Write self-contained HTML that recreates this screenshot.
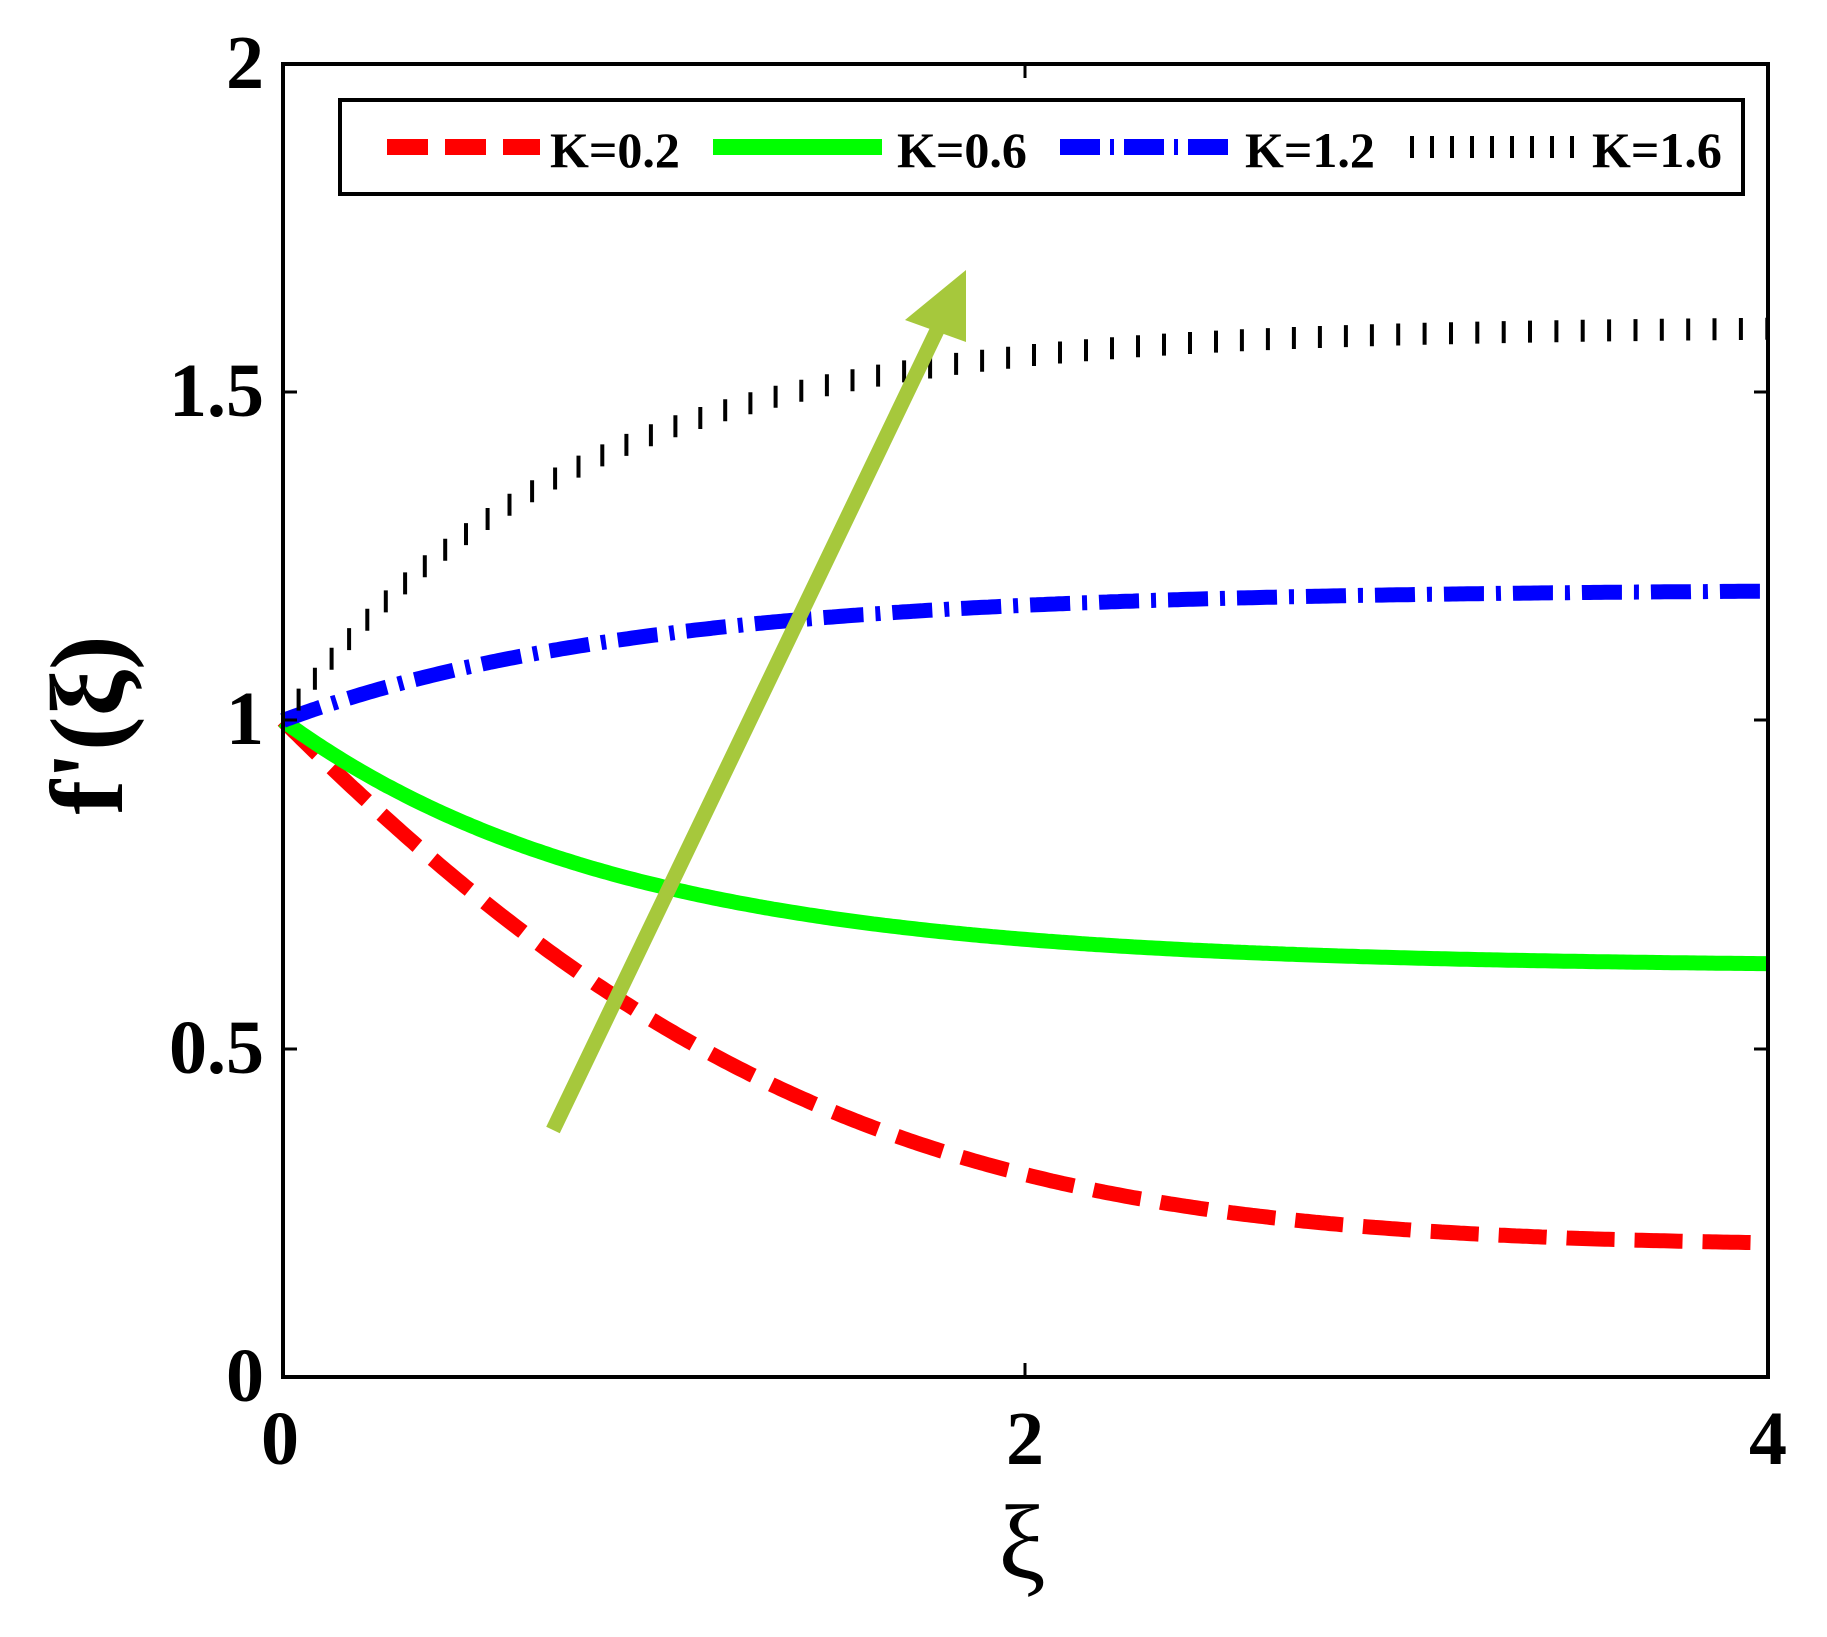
<!DOCTYPE html>
<html><head><meta charset="utf-8"><style>
html,body{margin:0;padding:0;background:#fff;}
svg{display:block;}
text{font-family:"Liberation Serif",serif;font-weight:bold;fill:#000;}
</style></head><body>
<svg id="s" width="1827" height="1637" viewBox="0 0 1827 1637" xmlns="http://www.w3.org/2000/svg">
<g id="curves"></g>
<rect x="283" y="64" width="1485" height="1313" fill="none" stroke="#000" stroke-width="4"/>
<g stroke="#000" stroke-width="3">
<line x1="1025" y1="64" x2="1025" y2="78"/><line x1="1025" y1="1377" x2="1025" y2="1363"/>
<line x1="283" y1="392" x2="297" y2="392"/><line x1="1768" y1="392" x2="1754" y2="392"/>
<line x1="283" y1="720" x2="297" y2="720"/><line x1="1768" y1="720" x2="1754" y2="720"/>
<line x1="283" y1="1049" x2="297" y2="1049"/><line x1="1768" y1="1049" x2="1754" y2="1049"/>
</g>
<g font-size="76" text-anchor="end">
<text x="264" y="88">2</text>
<text x="264" y="416">1.5</text>
<text x="264" y="744">1</text>
<text x="264" y="1073">0.5</text>
<text x="264" y="1401">0</text>
</g>
<g font-size="76" text-anchor="middle">
<text x="280" y="1464">0</text>
<text x="1025" y="1464">2</text>
<text x="1768" y="1464">4</text>
</g>
<text x="1022" y="1578" font-size="106" text-anchor="middle" style="font-weight:normal">ξ</text>
<text transform="translate(122,725) rotate(-90)" font-size="104" text-anchor="middle">f'(ξ)</text>
<rect x="340" y="100" width="1403" height="94" fill="#fff" stroke="#000" stroke-width="4"/>
<line x1="387" y1="147" x2="540" y2="147" stroke="#f00" stroke-width="16" stroke-dasharray="41 17"/>
<line x1="713" y1="147" x2="882" y2="147" stroke="#0f0" stroke-width="16"/>
<line x1="1060" y1="147" x2="1230" y2="147" stroke="#00f" stroke-width="16" stroke-dasharray="40 10 4 10"/>
<g id="legdots" stroke="#000" stroke-width="4"></g>
<g font-size="50">
<text x="550" y="167">K=0.2</text>
<text x="897" y="167">K=0.6</text>
<text x="1245" y="167">K=1.2</text>
<text x="1592" y="167">K=1.6</text>
</g>
<line x1="553" y1="1130" x2="942" y2="320" stroke="#a6c83c" stroke-width="15"/>
<polygon points="966,270 905,320 966,342" fill="#a6c83c"/>
</svg>
<script>
var X=function(x){return 283+x*371.25}, Y=function(y){return 1377-y*656.5};
function path(f){var d="";for(var i=0;i<=400;i++){var x=i/100;d+=(i?"L":"M")+X(x).toFixed(1)+","+Y(f(x)).toFixed(1);}return d;}
var g=document.getElementById("curves"),ns="http://www.w3.org/2000/svg";
function add(d,c,w,da){var p=document.createElementNS(ns,"path");p.setAttribute("d",d);p.setAttribute("fill","none");p.setAttribute("stroke",c);p.setAttribute("stroke-width",w);if(da)p.setAttribute("stroke-dasharray",da);g.appendChild(p);}
add(path(function(x){return 0.2+0.8*Math.exp(-0.7*x-0.15*x*x);}),"#f00",15,"48 20");
add(path(function(x){return 0.625+0.375*Math.exp(-1.1*x);}),"#0f0",15);
add(path(function(x){return 1.2-0.2*Math.exp(-1.05*x);}),"#00f",15,"40 12 5 12");
var bf=function(x){return 1.6-0.6*Math.exp(-1.3*x);};
var s="",acc=0,px0=X(0),py0=Y(bf(0));
for(var i=1;i<=4000;i++){var x=i/1000,px=X(x),py=Y(bf(x));acc+=Math.hypot(px-px0,py-py0);px0=px;py0=py;
if(acc>=26){acc=0;s+="M"+px.toFixed(1)+","+(py-11).toFixed(1)+"V"+(py+11).toFixed(1);}}
add(s,"#000",4);
var ld=document.getElementById("legdots");var t="";for(var px=1412;px<=1578;px+=20){t+='<line x1="'+px+'" y1="136" x2="'+px+'" y2="158"/>';}ld.innerHTML=t;
</script>
</body></html>
